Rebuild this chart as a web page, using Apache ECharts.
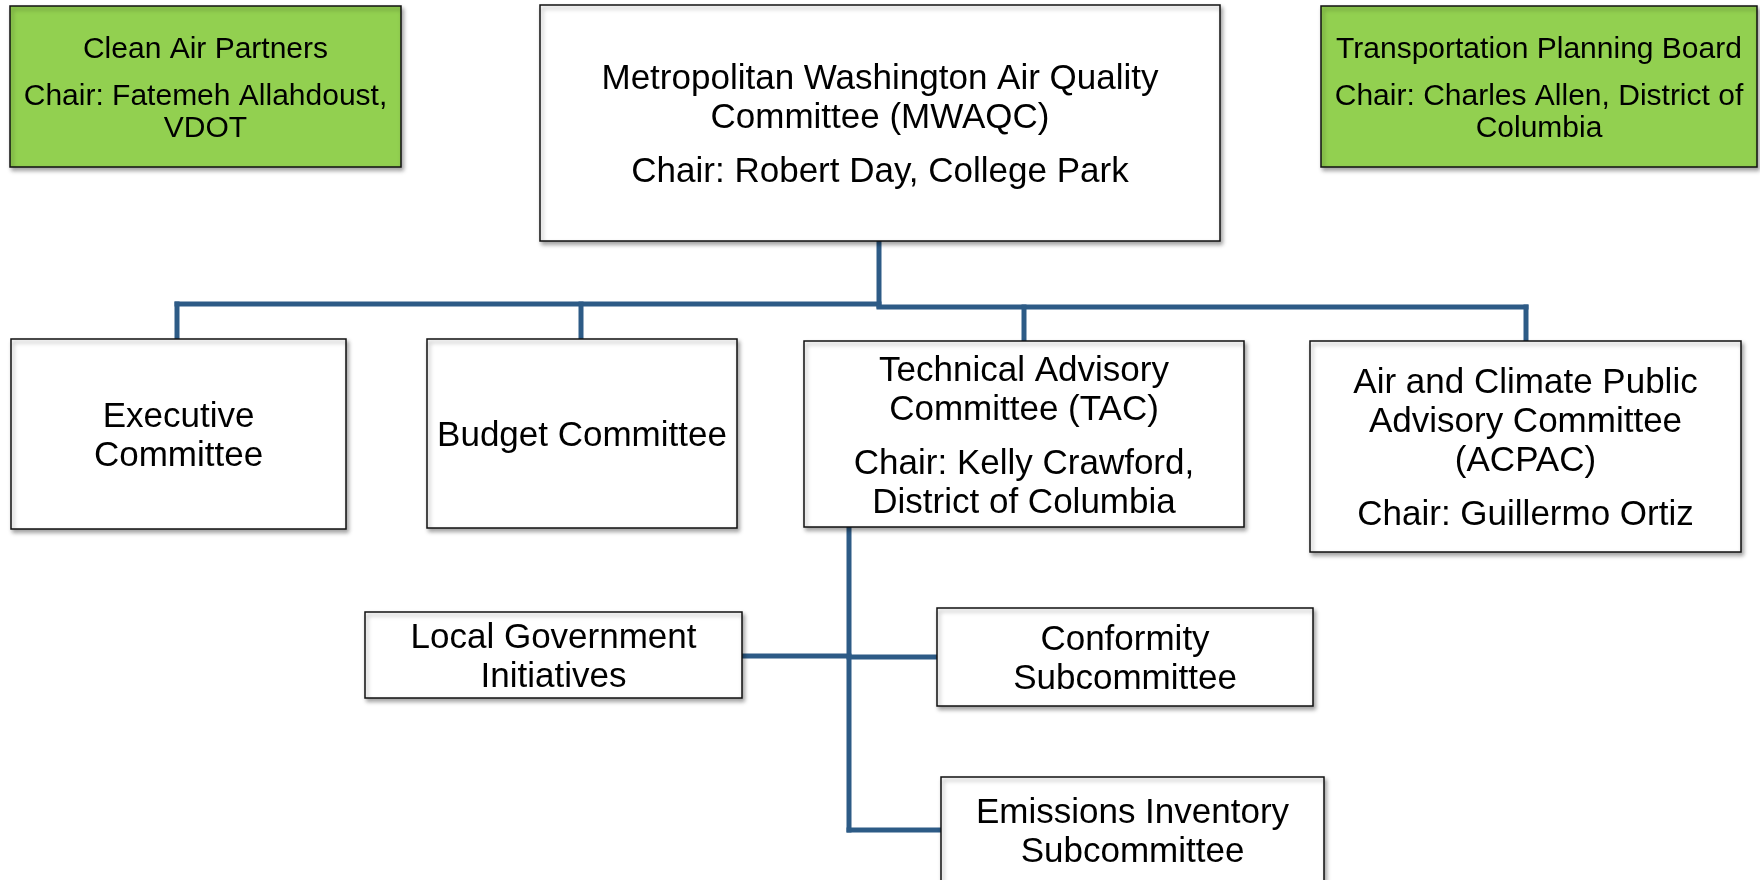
<!DOCTYPE html>
<html>
<head>
<meta charset="utf-8">
<script src="https://cdn.jsdelivr.net/npm/echarts@6/dist/echarts.min.js"></script>
<style>
html,body{margin:0;padding:0;background:#fff;}
#main{width:1760px;height:880px;}
</style>
</head>
<body>
<div id="main"></div>
<script>
/*org chart: MWAQC committees*/

//box texts, one array of paragraphs per box
var names = [
    [["Clean Air Partners"], ["Chair: Fatemeh Allahdoust,", "VDOT"]],
    [["Metropolitan Washington Air Quality", "Committee (MWAQC)"], ["Chair: Robert Day, College Park"]],
    [["Transportation Planning Board"], ["Chair: Charles Allen, District of", "Columbia"]],
    [["Executive", "Committee"]],
    [["Budget Committee"]],
    [["Technical Advisory", "Committee (TAC)"], ["Chair: Kelly Crawford,", "District of Columbia"]],
    [["Air and Climate Public", "Advisory Committee", "(ACPAC)"], ["Chair: Guillermo Ortiz"]],
    [["Local Government", "Initiatives"]],
    [["Conformity", "Subcommittee"]],
    [["Emissions Inventory", "Subcommittee"]]
];
//partner boxes (green) vs committee boxes
var partner = [1, 0, 1, 0, 0, 0, 0, 0, 0, 0];
//box extents on the page: left, top, right, bottom
var boxes = [
    [10, 6, 401, 167],
    [540, 5, 1220, 241],
    [1321, 6, 1757, 167],
    [11, 339, 346, 529],
    [427, 339, 737, 528],
    [804, 341, 1244, 527],
    [1310, 341, 1741, 552],
    [365, 612, 742, 698],
    [937, 608, 1313, 706],
    [941, 777, 1324, 883]
];
//connector segments: x1, y1, x2, y2
var links = [
    [879, 241, 879, 306],
    [177, 304, 879, 304],
    [879, 307, 1526, 307],
    [177, 304, 177, 339],
    [581, 304, 581, 339],
    [1024, 307, 1024, 341],
    [1526, 307, 1526, 341],
    [849, 527, 849, 830],
    [742, 656, 849, 656],
    [849, 657, 937, 657],
    [849, 830, 941, 830]
];

function boxText(i) {
    var st = partner[i] ? "s" : "t";
    return names[i].map(function (para) {
        return para.map(function (l) { return "{" + st + "|" + l + "}"; }).join("\n");
    }).join("\n{g| }\n");
}

var myChart = echarts.init(document.getElementById('main'));
var option = {
    backgroundColor: '#fff',
    animation: false,
    grid: {left: 0, right: 0, top: 0, bottom: 0},
    xAxis: {type: 'value', min: 0, max: 1760, show: false},
    yAxis: {type: 'value', min: 0, max: 880, inverse: true, show: false},
    series: [
        {
            type: 'custom',
            z: 1,
            data: links,
            renderItem: function (params, api) {
                var a = api.coord([api.value(0), api.value(1)]);
                var b = api.coord([api.value(2), api.value(3)]);
                return {
                    type: 'line',
                    shape: {x1: a[0], y1: a[1], x2: b[0], y2: b[1]},
                    style: {stroke: '#2D5B86', lineWidth: 5, lineCap: 'square'}
                };
            }
        },
        {
            type: 'custom',
            z: 2,
            data: boxes.map(function (b, i) { return b.concat([i]); }),
            renderItem: function (params, api) {
                var i = api.value(4);
                var p0 = api.coord([api.value(0), api.value(1)]);
                var p1 = api.coord([api.value(2), api.value(3)]);
                return {
                    type: 'rect',
                    shape: {x: p0[0], y: p0[1], width: p1[0] - p0[0], height: p1[1] - p0[1]},
                    style: {
                        fill: partner[i] ? '#92D050' : '#fff',
                        stroke: '#111',
                        lineWidth: 1.5,
                        shadowBlur: 4,
                        shadowOffsetX: 2,
                        shadowOffsetY: 3,
                        shadowColor: 'rgba(0,0,0,0.35)'
                    },
                    textContent: {
                        style: {
                            text: boxText(i),
                            align: 'center',
                            verticalAlign: 'middle',
                            fill: '#000',
                            fontFamily: 'Liberation Sans',
                            rich: {
                                t: {fontSize: 35, lineHeight: 39, fontFamily: 'Liberation Sans', fill: '#000'},
                                s: {fontSize: 30, lineHeight: 32, fontFamily: 'Liberation Sans', fill: '#000'},
                                g: {fontSize: 10, lineHeight: 15}
                            }
                        }
                    },
                    textConfig: {position: 'inside', offset: [0, 3]}
                };
            }
        }
    ]
};
myChart.setOption(option);
</script>
</body>
</html>
